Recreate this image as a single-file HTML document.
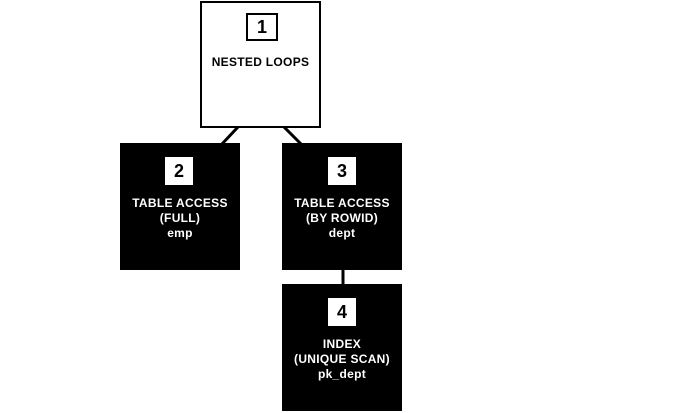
<!DOCTYPE html>
<html><head><style>
body{margin:0;width:688px;height:413px;background:#fff;position:relative;overflow:hidden;font-family:"Liberation Sans",Arial,sans-serif;font-weight:bold}
.b{position:absolute;box-sizing:border-box;text-align:center;font-size:12px;line-height:15px;letter-spacing:0.3px}
.w{background:#fff;border:2px solid #000;color:#000}
.k{background:#000;color:#fff}
.n{position:absolute;box-sizing:border-box;background:#fff;color:#000;font-size:18px;text-align:center;letter-spacing:0}
</style></head><body>
<svg width="688" height="413" style="position:absolute;left:0;top:0">
<line x1="238" y1="127" x2="222" y2="144" stroke="#000" stroke-width="3"/>
<line x1="284" y1="127" x2="301" y2="144" stroke="#000" stroke-width="3"/>
<line x1="343" y1="268" x2="343" y2="285" stroke="#000" stroke-width="3"/>
</svg>
<div class="b w" style="left:200px;top:1px;width:121px;height:127px">
<div class="n" style="left:44px;top:10px;width:32px;height:28px;border:2px solid #000;line-height:24px">1</div>
<div style="position:absolute;left:0;right:0;top:52px">NESTED LOOPS</div></div>
<div class="b k" style="left:120px;top:143px;width:120px;height:127px">
<div class="n" style="left:45px;top:14px;width:28px;height:28px;line-height:28px">2</div>
<div style="position:absolute;left:0;right:0;top:53px">TABLE ACCESS<br>(FULL)<br>emp</div></div>
<div class="b k" style="left:282px;top:143px;width:120px;height:127px">
<div class="n" style="left:46px;top:14px;width:28px;height:28px;line-height:28px">3</div>
<div style="position:absolute;left:0;right:0;top:53px">TABLE ACCESS<br>(BY ROWID)<br>dept</div></div>
<div class="b k" style="left:282px;top:284px;width:120px;height:127px">
<div class="n" style="left:46px;top:14px;width:28px;height:28px;line-height:28px">4</div>
<div style="position:absolute;left:0;right:0;top:53px">INDEX<br>(UNIQUE SCAN)<br>pk_dept</div></div>
</body></html>
